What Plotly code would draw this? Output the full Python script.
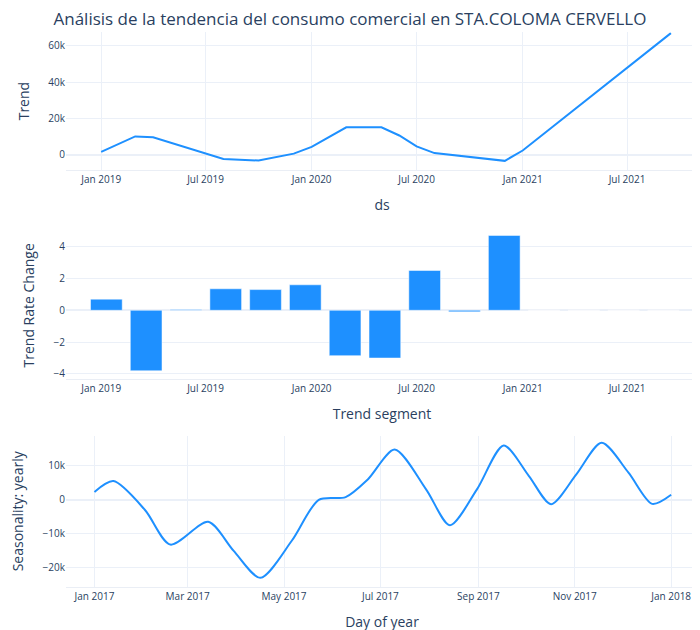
import plotly.graph_objects as go

trend_ds = ["2019-01-01", "2019-03-01", "2019-04-01", "2019-08-01", "2019-10-01", "2019-11-01",
            "2019-12-01", "2020-01-01", "2020-03-01", "2020-05-01", "2020-06-01", "2020-07-01",
            "2020-08-01", "2020-12-01", "2021-01-01", "2021-09-15"]
trend_vals = [1500, 10000, 9500, -2500, -3300, -1500, 500, 4200, 15000, 15000, 10500, 4500,
              800, -3500, 2200, 67000]

seg_ds = ["2019-01-10", "2019-03-20", "2019-05-28", "2019-08-05", "2019-10-13", "2019-12-21",
          "2020-02-28", "2020-05-07", "2020-07-15", "2020-09-22", "2020-11-30",
          "2021-02-07", "2021-04-17", "2021-06-25", "2021-09-02"]
seg_vals = [0.7, -3.8, 0.05, 1.35, 1.3, 1.6, -2.85, -3.0, 2.5, -0.1, 4.7, 0, 0, 0, 0]

season_ds = ["2017-01-01", "2017-01-13", "2017-02-02", "2017-02-18", "2017-03-14", "2017-03-30",
             "2017-04-16", "2017-05-06", "2017-05-23", "2017-06-09", "2017-06-23", "2017-07-10",
             "2017-07-30", "2017-08-14", "2017-08-31", "2017-09-17", "2017-10-03", "2017-10-17",
             "2017-11-02", "2017-11-18", "2017-12-05", "2017-12-20", "2018-01-01"]
season_vals = [2300, 5500, -3000, -13200, -6500, -15000, -23000, -12000, 0, 800, 6000, 14800,
               3000, -7500, 3000, 16000, 7000, -1300, 7500, 16800, 8000, -1200, 1500]

blue = "dodgerblue"
fig = go.Figure()
fig.add_trace(go.Scatter(x=trend_ds, y=trend_vals, mode="lines", line=dict(color=blue, width=2),
                         xaxis="x", yaxis="y", showlegend=False))
fig.add_trace(go.Bar(x=seg_ds, y=seg_vals, marker_color=blue, width=1000 * 86400 * 55,
                     xaxis="x2", yaxis="y2", showlegend=False))
fig.add_trace(go.Scatter(x=season_ds, y=season_vals, mode="lines",
                         line=dict(color=blue, width=2, shape="spline", smoothing=0.8),
                         xaxis="x3", yaxis="y3", showlegend=False))

xr = ["2018-11-01", "2021-11-01"]
fig.update_layout(
    template="plotly_white", width=700, height=630,
    margin=dict(l=52, r=10, t=10, b=38),
    title=dict(text="Análisis de la tendencia del consumo comercial en STA.COLOMA CERVELLO",
               x=0.065, xanchor="left", y=0.992, yanchor="top", font=dict(size=17)),
    xaxis=dict(range=xr, anchor="y", title="ds", dtick="M6", tickformat="%b %Y", showline=True, linecolor="#eaeef5"),
    yaxis=dict(domain=[0.733, 0.975], range=[-8500, 67500], title="Trend", dtick=20000),
    xaxis2=dict(range=xr, anchor="y2", title="Trend segment", dtick="M6", tickformat="%b %Y", showline=True, linecolor="#eaeef5"),
    yaxis2=dict(domain=[0.366, 0.624], range=[-4.3, 4.92], title="Trend Rate Change", dtick=2),
    xaxis3=dict(range=["2016-12-14", "2018-01-18"], anchor="y3", title="Day of year", dtick="M2",
                tickformat="%b %Y", showline=True, linecolor="#eaeef5"),
    yaxis3=dict(domain=[0.0, 0.266], range=[-25700, 18900], title="Seasonality: yearly", dtick=10000),
    font=dict(size=12),
)
for ax in ["xaxis", "xaxis2", "xaxis3", "yaxis", "yaxis2", "yaxis3"]:
    fig.layout[ax].tickfont = dict(size=10)
fig.write_html("out.html")
